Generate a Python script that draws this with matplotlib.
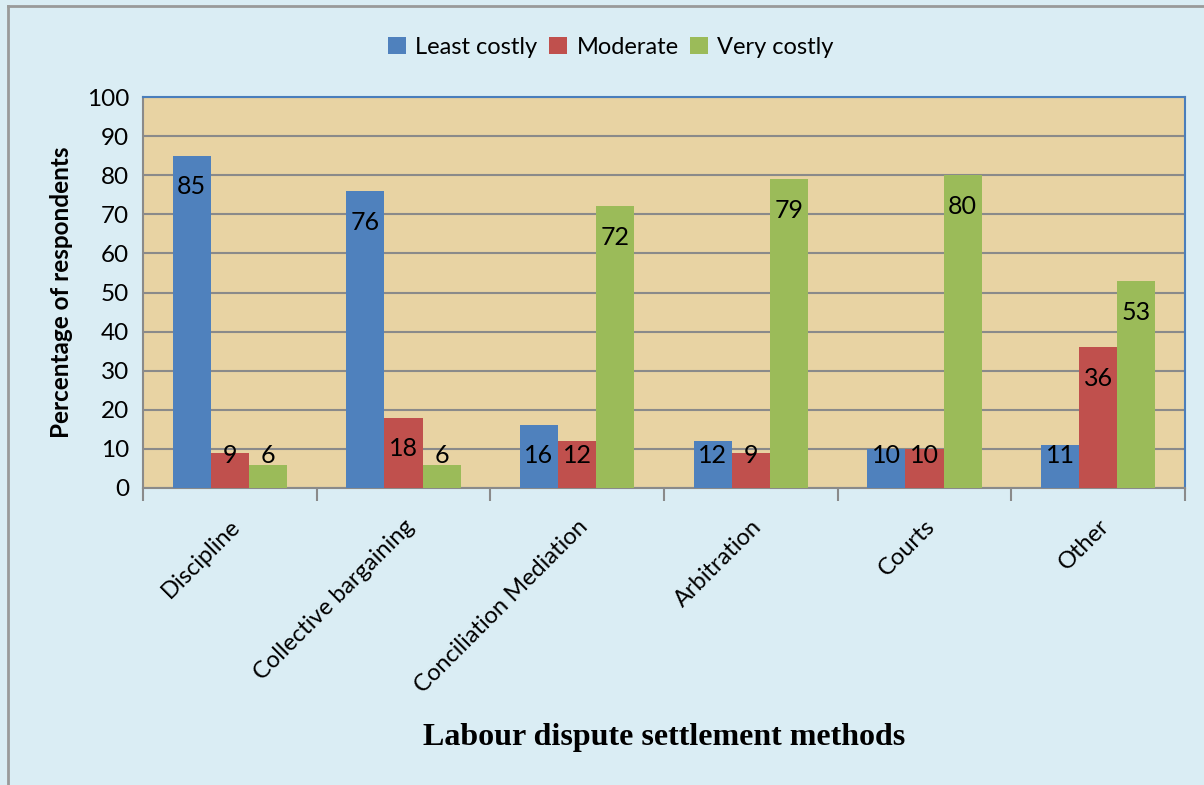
import numpy as np
import matplotlib
matplotlib.use("Agg")
import matplotlib.pyplot as plt
from matplotlib.patches import Patch
from matplotlib.lines import Line2D

plt.rcParams['font.family'] = ['Lato', 'DejaVu Sans']

methods = ["Discipline", "Collective bargaining", "Conciliation Mediation",
           "Arbitration", "Courts", "Other"]
series_names = ["Least costly", "Moderate", "Very costly"]
least_costly = [85, 76, 16, 12, 10, 11]
moderate = [9, 18, 12, 9, 10, 36]
very_costly = [6, 6, 72, 79, 80, 53]
yticks = list(range(0, 101, 10))

colors = ["#4F81BD", "#C0504D", "#9BBB59"]
bg = "#DAEDF4"

fig = plt.figure(figsize=(12.04, 7.85), dpi=100, facecolor=bg)
ax = fig.add_axes([143/1204, 1 - 488/785, (1185-143)/1204, (488-97)/785])
ax.set_facecolor("#E8D3A3")

# outer frame (left and top edges)
fig.add_artist(Line2D([8/1204, 8/1204], [0, 1 - 6/785], transform=fig.transFigure,
                      color="#9a9a9a", lw=2))
fig.add_artist(Line2D([8/1204, 1], [1 - 6/785, 1 - 6/785], transform=fig.transFigure,
                      color="#9a9a9a", lw=2))

x = np.arange(len(methods))
w = 0.22
for i, vals in enumerate([least_costly, moderate, very_costly]):
    pos = x + (i - 1) * w
    ax.bar(pos, vals, width=w, color=colors[i], zorder=3)
    for p, v in zip(pos, vals):
        ax.text(p, max(v - 8, 8.3), str(v), ha="center", va="center",
                fontsize=18, color="black", zorder=4)

ax.set_xlim(-0.5, len(methods) - 0.5)
ax.set_ylim(0, 100)
ax.set_yticks(yticks)
ax.tick_params(axis="y", length=0, labelsize=17.5, pad=10)
ax.yaxis.grid(True, color="#8a8a8a", lw=1.5, zorder=1)
ax.set_axisbelow(True)

ax.set_xticks(x)
ax.set_xticklabels(methods, rotation=45, ha="right", rotation_mode="anchor", fontsize=17)
ax.tick_params(axis="x", length=0, pad=20)
ax.set_xticks(np.arange(-0.5, len(methods)), minor=True)
ax.tick_params(axis="x", which="minor", length=9, width=1.5, color="#8a8a8a")

for s in ["left", "bottom"]:
    ax.spines[s].set_color("#8a8a8a")
    ax.spines[s].set_linewidth(1.5)
for s in ["top", "right"]:
    ax.spines[s].set_color("#4A7EBB")
    ax.spines[s].set_linewidth(1.5)

ax.set_ylabel("Percentage of respondents", fontsize=17.5, fontweight="bold", labelpad=10)
fig.text(664/1204, 1 - 737/785, "Labour dispute settlement methods",
         ha="center", va="center", fontsize=23, fontweight="bold",
         family="Liberation Serif")

handles = [Patch(facecolor=c) for c in colors]
fig.legend(handles, series_names, loc="center", bbox_to_anchor=(611/1204, 1 - 47/785),
           ncol=3, frameon=False, fontsize=17, handlelength=0.75, handleheight=0.75,
           handletextpad=0.4, columnspacing=0.5)

fig.savefig("out.png", dpi=100, facecolor=bg)
